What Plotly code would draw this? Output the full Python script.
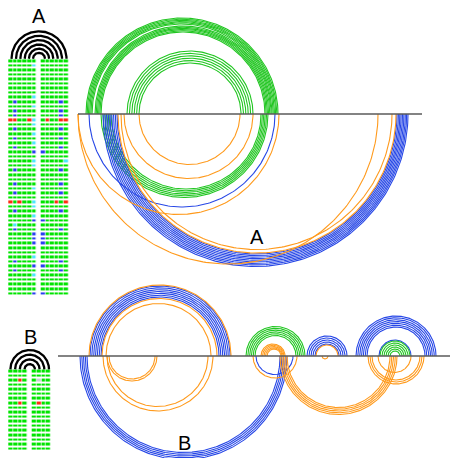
import numpy as np
import plotly.graph_objects as go

# ---------------------------------------------------------------------------
# Base-pair arcs: (5' position, 3' position) along each sequence axis
# ---------------------------------------------------------------------------
A_GREEN_UP = [(86, 278), (87.2, 276.8), (88.4, 275.6), (89.6, 274.4), (90.8, 273.2), (92, 272),
              (95, 271), (96.2, 269.8), (97.4, 268.6), (98.6, 267.4), (99.8, 266.2), (101, 265),
              (127, 253), (129.4, 250.6), (131.8, 248.2), (134.2, 245.8), (136.6, 243.4), (139, 241)]
A_GREEN_DOWN = [(101, 268), (103, 266.6), (105, 265.2), (107, 263.8), (109, 262.4), (111, 261)]
A_BLUE_DOWN = [(89, 275),
               (103, 408), (104.8, 406.6), (106.5, 405.3), (108.3, 403.9), (110, 402.5),
               (111.8, 401.1), (113.5, 399.8), (115.3, 398.4), (117, 397)]
A_ORANGE_DOWN = [(139, 240), (124, 253), (78, 279), (78, 378), (118, 396), (121, 392)]

B_GREEN_UP = [(246, 305), (247.8, 303.2), (249.6, 301.4), (251.4, 299.6), (253.2, 297.8), (255, 296),
              (380, 410), (382, 408), (384, 406), (386, 404), (388, 402), (390, 400)]
B_BLUE_UP = [(90, 230), (91.8, 228.2), (93.7, 226.3), (95.5, 224.5), (97.3, 222.7), (99.2, 220.8), (101, 219),
             (307, 347), (309, 345), (311, 343), (313, 341), (315, 339),
             (356, 436), (357.8, 434.2), (359.7, 432.3), (361.5, 430.5), (363.3, 428.7), (365.2, 426.8),
             (367, 425), (379, 411)]
B_ORANGE_UP = [(89, 231), (102, 217), (106, 211),
               (261, 285), (262.5, 284), (264, 283), (265.5, 282), (267, 281),
               (316, 338)]
B_BLUE_DOWN = [(80, 287), (81.8, 285.3), (83.5, 283.5), (85.3, 281.8), (87, 280), (256, 293)]
B_ORANGE_DOWN = [(103, 213), (107, 208), (107, 157), (109, 155), (253, 297),
                 (280, 397), (281.8, 395.3), (283.5, 393.5), (285.3, 391.8), (287, 390),
                 (322, 328), (368, 424), (370, 422), (372, 420), (378, 411)]

# Sequence axis extents
A_AXIS = (78, 422)
B_AXIS = (58, 450)

# Helix glyphs: stacked pairing arcs above the alignment columns
A_HELIX_PAIRS = [(11.5, 66.5), (16, 62), (20.3, 57.7), (24.7, 53.3), (28.9, 49.1), (33, 45)]
B_HELIX_PAIRS = [(10.4, 49), (15.1, 44.3), (19.8, 39.6), (24.5, 34.9)]

# Alignment cells: g = conserved, b = compensatory, c = consistent, r = inconsistent, w = gap
A_LEFT = ["gggggg", "gggggc", "gggggg", "gggggg", "gggggg", "gggggg", "gggggg", "gggggg",
          "gggggc", "gbgggg", "gggggc", "gbgggg", "gbgggg", "rrggrc", "gggggc", "gbgggg",
          "gggggc", "gbgggg", "gggggc", "gbgggg", "gggggb", "gggggg", "gggggc", "gggggc",
          "gbgggg", "gggggg", "gggggg", "gbgggg", "gggggc", "gbgggg", "gggggg", "rgrggc",
          "gggggc", "gbgggg", "gggggc", "gggggb", "gcgggg", "gbgggg", "gggggb", "gggggb",
          "gggggb", "gggggg", "gggggg", "gggggc", "gbgggg", "gggggb", "gbgggg", "gggggc",
          "gggggg", "gggggg", "gggggg", "gggggb"]
A_RIGHT = ["gggggg", "gggggg", "gggggg", "gggggg", "gggggg", "gggggg", "gggggg", "gggggg",
           "gggggg", "ggggbg", "gggggg", "ggggbg", "ggggbg", "grggrr", "gggggg", "ggggbg",
           "gggggg", "ggggbg", "gggggg", "ggggbg", "bggggg", "gggggg", "gggggc", "gggggg",
           "ggggbg", "gggggg", "gggggg", "ggggbg", "gggggg", "ggggbg", "gggggg", "gggrgr",
           "gggggg", "ggggbg", "gggggg", "bggggg", "gggggg", "ggggbg", "bggggg", "bggggg",
           "bggggg", "gggggg", "gggggg", "gggggg", "ggggbg", "bggggg", "ggggbg", "gggggg",
           "gggggg", "gggggg", "gggggg", "bggggg"]
B_LEFT = ["gggg", "gggg", "ggrg", "gggg", "gggg", "gggg", "gggg", "ggrg", "gggg",
          "gggg", "gggg", "gggg", "gggg", "gggg", "gggg", "gggg", "gggg", "gggg"]
B_RIGHT = ["gggg", "gggg", "gwgg", "gggg", "gggg", "gggg", "gggg", "grgg", "gggg",
           "gggg", "gggg", "gggg", "gggg", "gggg", "gggg", "gggg", "gggg", "gggg"]

# ---------------------------------------------------------------------------
GREEN = "#22c622"
BLUE = "#2747e6"
ORANGE = "#ff9a1c"
CELL_CODES = {"g": 0, "b": 1, "c": 2, "r": 3, "w": 4}
CELL_SCALE = [[0.0, "#00e400"], [0.25, "#2a3ef0"], [0.5, "#4ce6ff"], [0.75, "#ff2a12"], [1.0, "#c9c9d6"]]

A_BASE = 114
B_BASE = 356

fig = go.Figure()


def arcs(pairs, base, up, color, width=1.1):
    xs, ys = [], []
    t = np.linspace(0, np.pi, 160)
    sign = 1 if up else -1
    for a, b in pairs:
        c, r = (a + b) / 2, (b - a) / 2
        xs += list(c - r * np.cos(t)) + [None]
        ys += list(base - sign * r * np.sin(t)) + [None]
    fig.add_trace(go.Scatter(x=xs, y=ys, mode="lines", line=dict(color=color, width=width),
                             hoverinfo="skip"))


def baseline(ext, base):
    fig.add_trace(go.Scatter(x=list(ext), y=[base, base], mode="lines",
                             line=dict(color="#5a5a5a", width=1.6), hoverinfo="skip"))


def cells(rows, x0, x1, y0, pitch):
    n = len(rows[0])
    w = (x1 - x0) / n
    z = [[CELL_CODES[ch] for ch in row] for row in rows]
    fig.add_trace(go.Heatmap(z=z, x=[x0 + w * (k + 0.5) for k in range(n)],
                             y=[y0 + pitch * i for i in range(len(rows))],
                             colorscale=CELL_SCALE, zmin=0, zmax=4, showscale=False,
                             xgap=0.7, ygap=2.0, hoverinfo="skip"))


# Panel A
arcs(A_GREEN_UP, A_BASE, True, GREEN)
arcs(A_GREEN_DOWN, A_BASE, False, GREEN)
arcs(A_BLUE_DOWN, A_BASE, False, BLUE)
arcs(A_ORANGE_DOWN, A_BASE, False, ORANGE)
baseline(A_AXIS, A_BASE)

# Panel B
arcs(B_BLUE_UP, B_BASE, True, BLUE)
arcs(B_GREEN_UP, B_BASE, True, GREEN)
arcs(B_ORANGE_UP, B_BASE, True, ORANGE)
arcs(B_BLUE_DOWN, B_BASE, False, BLUE)
arcs(B_ORANGE_DOWN, B_BASE, False, ORANGE)
baseline(B_AXIS, B_BASE)

# Helix glyphs
arcs(A_HELIX_PAIRS, 58.8, True, "#000000", 2.3)
arcs(B_HELIX_PAIRS, 369.3, True, "#000000", 2.3)
cells(A_LEFT, 8.3, 36.7, 60.7, 4.56)
cells(A_RIGHT, 40.7, 68.3, 60.7, 4.56)
cells(B_LEFT, 8.3, 27.3, 370.8, 4.57)
cells(B_RIGHT, 31.7, 51.0, 370.8, 4.57)

font = dict(family="Liberation Sans, Arial, sans-serif", size=20, color="#000000")
for txt, x, y in [("A", 39, 15.5), ("A", 256.5, 237), ("B", 30, 336.5), ("B", 184.5, 442.5)]:
    fig.add_annotation(x=x, y=y, text=txt, showarrow=False, font=font,
                       xanchor="center", yanchor="middle")

fig.update_layout(
    width=450, height=458, margin=dict(l=0, r=0, t=0, b=0),
    paper_bgcolor="white", plot_bgcolor="white", showlegend=False,
    xaxis=dict(range=[0, 450], visible=False, fixedrange=True),
    yaxis=dict(range=[458, 0], visible=False, fixedrange=True),
)

fig.write_html("out.html")
